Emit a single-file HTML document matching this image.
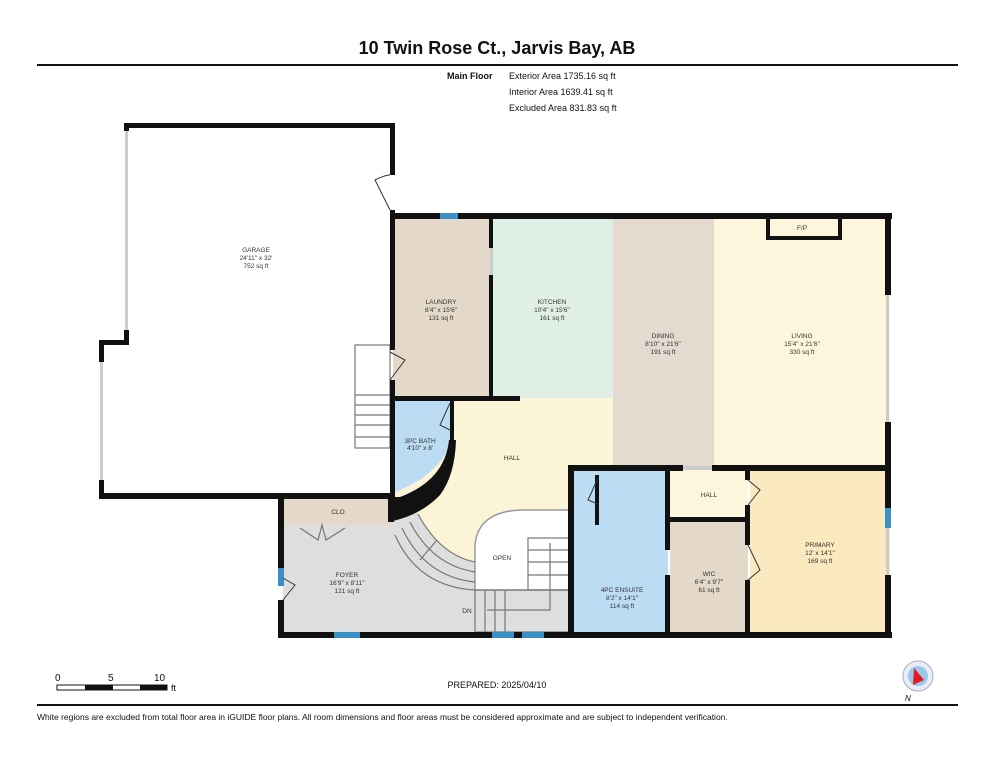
<!DOCTYPE html>
<html><head><meta charset="utf-8"><style>
html,body{margin:0;padding:0;background:#fff;}
svg{display:block;font-family:"Liberation Sans",Arial,sans-serif;}
.rl{font-size:6.5px;fill:#333;text-anchor:middle;}
</style></head><body>
<svg width="994" height="768" viewBox="0 0 994 768" xmlns="http://www.w3.org/2000/svg">
<text x="497" y="54" font-size="18" font-weight="bold" text-anchor="middle" fill="#111">10 Twin Rose Ct., Jarvis Bay, AB</text>
<rect x="37" y="64" width="921" height="2" fill="#111"/>
<text x="447" y="79" font-size="9" font-weight="bold" fill="#111">Main Floor</text>
<text x="509" y="79" font-size="9" fill="#111">Exterior Area 1735.16 sq ft</text>
<text x="509" y="95" font-size="9" fill="#111">Interior Area 1639.41 sq ft</text>
<text x="509" y="111" font-size="9" fill="#111">Excluded Area 831.83 sq ft</text>

<!-- room fills -->
<rect x="393" y="218" width="99" height="180" fill="#e4d8c8"/>
<rect x="492" y="218" width="121" height="180" fill="#e0efe6"/>
<rect x="613" y="218" width="101" height="250" fill="#e4dacf"/>
<rect x="714" y="218" width="176" height="250" fill="#fdf6dc"/>
<rect x="283" y="498" width="290" height="136" fill="#dedede"/>
<path d="M393 398 H613 V468 H570 V510 H520 Q478 512 475 545 V562 Q440 555 418 514 L393 500 Z" fill="#fbf4d7"/>
<path d="M393 400 H452 V440 Q440 475 395 492 H393 Z" fill="#bcdcf4"/>
<rect x="283" y="498" width="105" height="27" fill="#e4d8c8"/>
<rect x="572" y="470" width="96" height="162" fill="#bcdcf4"/>
<rect x="670" y="470" width="78" height="50" fill="#fdf6dc"/>
<rect x="670" y="520" width="78" height="112" fill="#e4d8c8"/>
<rect x="750" y="470" width="140" height="162" fill="#fbe9bf"/>
<path d="M475 590 V545 Q478 512 520 510 H570 V590 Z" fill="#fff" stroke="#999" stroke-width="1.5"/>
<!-- curved stairs -->
<g fill="none" stroke="#777" stroke-width="1.2">
<path d="M418 514 Q440 555 475 562"/><path d="M410 522 Q432 565 475 572"/><path d="M402 528 Q425 577 475 582"/><path d="M395 535 Q418 587 475 590"/>
<rect x="475" y="590" width="95" height="42"/><line x1="485" y1="590" x2="485" y2="632"/><line x1="495" y1="590" x2="495" y2="632"/><line x1="505" y1="590" x2="505" y2="632"/>
<rect x="528" y="538" width="42" height="52"/><line x1="528" y1="550" x2="570" y2="550"/><line x1="528" y1="562" x2="570" y2="562"/><line x1="528" y1="575" x2="570" y2="575"/>
<polyline points="487,610 550,610 550,543"/><line x1="420" y1="560" x2="437" y2="540"/>
<rect x="355" y="345" width="35" height="103"/><line x1="355" y1="395" x2="390" y2="395"/><line x1="355" y1="405" x2="390" y2="405"/><line x1="355" y1="415" x2="390" y2="415"/><line x1="355" y1="425" x2="390" y2="425"/><line x1="355" y1="437" x2="390" y2="437"/>
<path d="M300 528 L318 540 L322 525 L326 540 L345 528"/>
</g>
<!-- walls -->
<g fill="#111">
<rect x="124" y="123" width="271" height="5"/>
<rect x="124" y="123" width="5" height="8"/><rect x="124" y="330" width="5" height="15"/>
<rect x="99" y="340" width="30" height="5"/><rect x="99" y="340" width="5" height="22"/><rect x="99" y="480" width="5" height="19"/>
<rect x="99" y="493" width="296" height="6"/>
<rect x="390" y="123" width="5" height="52"/><rect x="390" y="210" width="5" height="140"/><rect x="390" y="380" width="5" height="120"/>
<rect x="390" y="213" width="502" height="6"/>
<rect x="885" y="213" width="6" height="82"/><rect x="885" y="422" width="6" height="86"/><rect x="885" y="575" width="6" height="63"/>
<rect x="278" y="493" width="117" height="6"/>
<rect x="278" y="493" width="6" height="75"/><rect x="278" y="600" width="6" height="38"/>
<rect x="278" y="632" width="614" height="6"/>
<rect x="489" y="218" width="4" height="30"/><rect x="489" y="275" width="4" height="125"/>
<rect x="393" y="396" width="127" height="5"/>
<rect x="450" y="400" width="4" height="40"/>
<path d="M449 440 Q445 480 400 497 L388 497 L388 522 Q420 516 440 495 Q455 475 456 440 Z"/>
<rect x="388" y="519" width="6" height="3"/>
<rect x="568" y="465" width="115" height="6"/><rect x="712" y="465" width="178" height="6"/>
<rect x="568" y="465" width="6" height="172"/>
<rect x="665" y="470" width="5" height="80"/><rect x="665" y="575" width="5" height="60"/>
<rect x="668" y="517" width="82" height="5"/>
<rect x="745" y="470" width="5" height="10"/><rect x="745" y="505" width="5" height="40"/><rect x="745" y="580" width="5" height="55"/>
<rect x="766" y="218" width="4" height="20"/><rect x="838" y="218" width="4" height="20"/><rect x="766" y="236" width="76" height="4"/>
<rect x="595" y="475" width="4" height="50"/>
</g>
<!-- windows -->
<g fill="#3b8fc7">
<rect x="440" y="213" width="18" height="6"/><rect x="334" y="632" width="26" height="6"/><rect x="492" y="632" width="22" height="6"/><rect x="522" y="632" width="22" height="6"/>
<rect x="278" y="568" width="6" height="18"/><rect x="885" y="508" width="6" height="20"/>
</g>
<g fill="#ccc"><rect x="125" y="131" width="3" height="199"/><rect x="100" y="362" width="3" height="118"/><rect x="886" y="295" width="3" height="127"/><rect x="683" y="466" width="29" height="4"/><rect x="886" y="528" width="3" height="47"/><rect x="490" y="248" width="3" height="27"/></g>
<!-- door swings -->
<g fill="none" stroke="#333" stroke-width="1"><path d="M390 210 L375 180 Q385 175 390 175"/><path d="M390 380 L405 360 L390 352"/><path d="M450 403 L440 425 L450 430"/><path d="M283 600 L295 585 L283 578"/><path d="M748 480 L760 490 L748 505"/><path d="M748 545 L760 570 L748 580"/><path d="M598 478 L588 500 L598 504"/></g>

<!-- labels -->
<text class="rl" x="256" y="252">GARAGE</text><text class="rl" x="256" y="260">24'11" x 32'</text><text class="rl" x="256" y="268">752 sq ft</text>
<text class="rl" x="441" y="304">LAUNDRY</text><text class="rl" x="441" y="312">8'4" x 15'6"</text><text class="rl" x="441" y="320">131 sq ft</text>
<text class="rl" x="552" y="304">KITCHEN</text><text class="rl" x="552" y="312">10'4" x 15'6"</text><text class="rl" x="552" y="320">161 sq ft</text>
<text class="rl" x="663" y="338">DINING</text><text class="rl" x="663" y="346">8'10" x 21'6"</text><text class="rl" x="663" y="354">191 sq ft</text>
<text class="rl" x="802" y="338">LIVING</text><text class="rl" x="802" y="346">15'4" x 21'6"</text><text class="rl" x="802" y="354">330 sq ft</text>
<text class="rl" x="802" y="230">F/P</text>
<text class="rl" x="420" y="443" font-size="5.5">3PC BATH</text><text class="rl" x="420" y="450" font-size="5.5">4'10" x 8'</text>
<text class="rl" x="512" y="460">HALL</text>
<text class="rl" x="338" y="514">CLO</text>
<text class="rl" x="347" y="577">FOYER</text><text class="rl" x="347" y="585">16'9" x 8'11"</text><text class="rl" x="347" y="593">121 sq ft</text>
<text class="rl" x="502" y="560">OPEN</text><text class="rl" x="467" y="613">DN</text>
<text class="rl" x="622" y="592">4PC ENSUITE</text><text class="rl" x="622" y="600">8'2" x 14'1"</text><text class="rl" x="622" y="608">114 sq ft</text>
<text class="rl" x="709" y="497">HALL</text>
<text class="rl" x="709" y="576">WIC</text><text class="rl" x="709" y="584">6'4" x 9'7"</text><text class="rl" x="709" y="592">61 sq ft</text>
<text class="rl" x="820" y="547">PRIMARY</text><text class="rl" x="820" y="555">12' x 14'1"</text><text class="rl" x="820" y="563">169 sq ft</text>

<!-- scale -->
<text x="55" y="681" font-size="10" fill="#111">0</text><text x="108" y="681" font-size="10" fill="#111">5</text><text x="154" y="681" font-size="10" fill="#111">10</text>
<rect x="57" y="685" width="110" height="5" fill="#fff" stroke="#111" stroke-width="1"/>
<rect x="85" y="685" width="28" height="5" fill="#111"/><rect x="140" y="685" width="27" height="5" fill="#111"/>
<text x="171" y="691" font-size="9" fill="#111">ft</text>
<text x="497" y="688" font-size="9" text-anchor="middle" fill="#111">PREPARED: 2025/04/10</text>
<circle cx="918" cy="676" r="15" fill="#e8eef6" stroke="#aab" stroke-width="1"/><circle cx="918" cy="676" r="10" fill="#9cc6ea"/>
<path d="M914 668 L924 680 L913 685 Z" fill="#e01b1b"/>
<text x="905" y="701" font-size="8" font-style="italic" fill="#111">N</text>
<rect x="37" y="704" width="921" height="2" fill="#111"/>
<text x="37" y="720" font-size="8.5" fill="#111">White regions are excluded from total floor area in iGUIDE floor plans. All room dimensions and floor areas must be considered approximate and are subject to independent verification.</text>
</svg>
</body></html>
